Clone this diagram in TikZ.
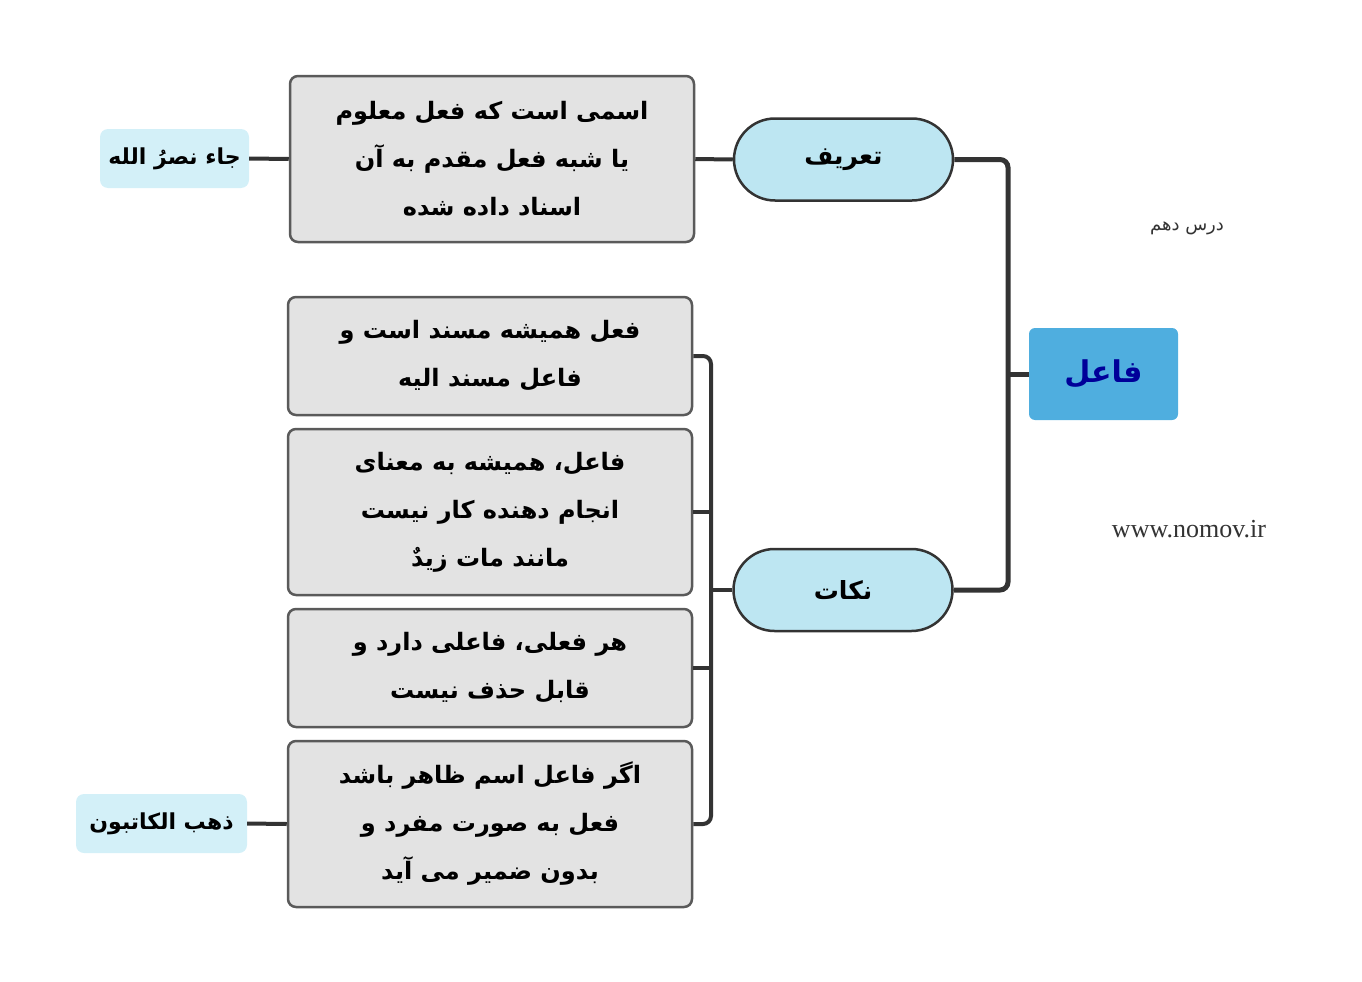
\documentclass[tikz,border=0pt]{standalone}
\usepackage{fontspec}
\setmainfont{Liberation Serif}
\TeXXeTstate=1
\newfontfamily\arabicfont[Script=Arabic]{DejaVu Sans}
\newcommand\ar[1]{\beginR #1\endR}
\definecolor{linegray}{HTML}{333333}
\definecolor{boxgray}{HTML}{E3E3E3}
\definecolor{boxedge}{HTML}{5A5A5A}
\definecolor{pillblue}{HTML}{BDE6F2}
\definecolor{tagblue}{HTML}{D3F0F8}
\definecolor{rootblue}{HTML}{4FAEDF}
\definecolor{rootnavy}{HTML}{000099}
\tikzset{
  notebox/.style={draw=boxedge, line width=2.5pt, fill=boxgray, rounded corners=8pt,
    minimum width=404pt, inner sep=0pt, align=center,
    font=\arabicfont\bfseries\fontsize{24}{48}\selectfont},
  pill/.style={draw=linegray, line width=2.5pt, fill=pillblue, rounded corners=41pt,
    minimum width=219pt, minimum height=82pt, inner sep=0pt,
    font=\arabicfont\bfseries\fontsize{25}{30}\selectfont},
  tagbox/.style={fill=tagblue, rounded corners=8pt, minimum height=59pt, inner sep=0pt,
    font=\arabicfont\bfseries\fontsize{22}{26}\selectfont},
  link/.style={draw=linegray, line width=4pt, rounded corners=8pt},
}
\begin{document}
\begin{tikzpicture}[x=1pt,y=-1pt]
\useasboundingbox (0,0) rectangle (1362,982);
% root
\node[fill=rootblue, rounded corners=6pt, minimum width=149pt, minimum height=92pt,
  text=rootnavy, font=\arabicfont\bfseries\fontsize{30}{36}\selectfont] (root) at (1103.5,374) {\ar{فاعل}};
% main branches
\node[pill] (tarif) at (843.5,159.5) {\ar{تعریف}};
\node[pill] (nokat) at (843,590) {\ar{نکات}};
% definition
\node[notebox, minimum height=166pt] (def) at (492,159) {\ar{اسمی است که فعل معلوم}\\\ar{یا شبه فعل مقدم به آن}\\\ar{اسناد داده شده}};
\node[tagbox, minimum width=149pt] (tag1) at (174.5,158.5) {\ar{جاء نصرُ الله}};
% notes
\node[notebox, minimum height=118pt] (n1) at (490,356) {\ar{فعل همیشه مسند است و}\\\ar{فاعل مسند الیه}};
\node[notebox, minimum height=166pt] (n2) at (490,512) {\ar{فاعل، همیشه به معنای}\\\ar{انجام دهنده کار نیست}\\\ar{مانند مات زیدٌ}};
\node[notebox, minimum height=118pt] (n3) at (490,668) {\ar{هر فعلی، فاعلی دارد و}\\\ar{قابل حذف نیست}};
\node[notebox, minimum height=166pt] (n4) at (490,824) {\ar{اگر فاعل اسم ظاهر باشد}\\\ar{فعل به صورت مفرد و}\\\ar{بدون ضمیر می آید}};
\node[tagbox, minimum width=171pt] (tag2) at (161.5,823.5) {\ar{ذهب الکاتبون}};
% free texts
\node[font=\arabicfont\fontsize{18}{22}\selectfont, text=linegray] (dars) at (1187,228) {\ar{درس دهم}};
\node[font=\fontsize{26}{30}\selectfont, text=linegray] (site) at (1189,529) {www.nomov.ir};
% connectors
\coordinate (j1) at (1008,374);
\coordinate (j2) at (711,590);
\draw[link, line width=5pt] (tarif.east) -| (j1) |- (nokat.east);
\draw[link, line width=5pt] (j1) -- (root.west);
\draw[link] (tarif.west) -- (def.east);
\draw[link] (def.west) -- (tag1.east);
\draw[link] (n1.east) -| (j2) |- (n4.east);
\draw[link] (n2.east) -- (n2.east -| j2);
\draw[link] (n3.east) -- (n3.east -| j2);
\draw[link] (nokat.west) -- (j2);
\draw[link] (n4.west) -- (tag2.east);
\end{tikzpicture}
\end{document}
